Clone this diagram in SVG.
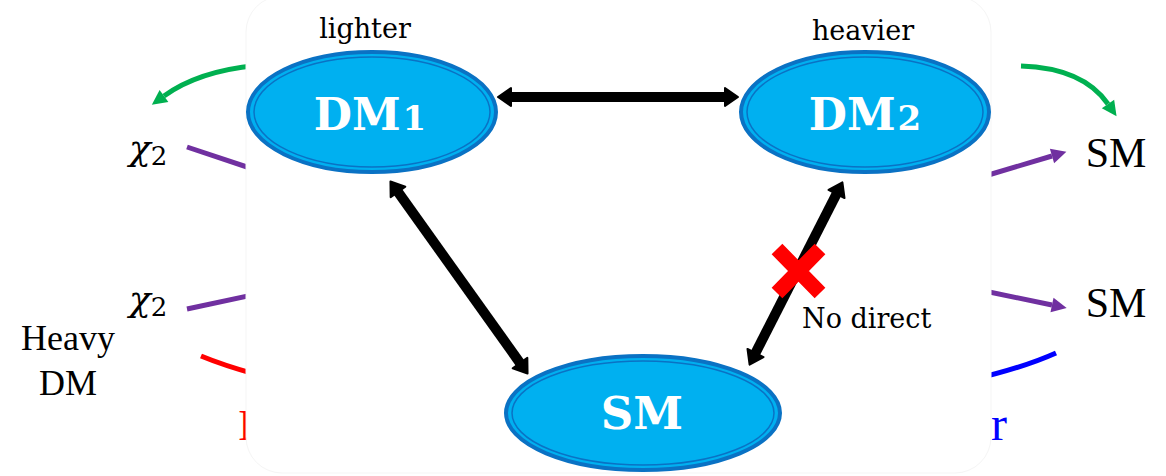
<svg xmlns="http://www.w3.org/2000/svg" width="1166" height="476" viewBox="0 0 1166 476">
<defs>
<style>
.lbl{font-family:"Liberation Serif","Times New Roman",serif;fill:#000}
.cm{font-family:"DejaVu Serif","Liberation Serif",serif;fill:#000}
.node{fill:#00B0F0;stroke:#0A72C4;stroke-width:4}
.ring{fill:none;stroke:#0A72C4;stroke-width:1.5}
.ntxt{font-family:"DejaVu Serif","Liberation Serif",serif;font-weight:bold;fill:#fff;text-anchor:middle}
.blk{stroke:#000;stroke-width:10;fill:none}
.grn{stroke:#00B050;stroke-width:5;fill:none}
.pur{stroke:#7030A0;stroke-width:5;fill:none}
.chi{font-family:"DejaVu Serif","Liberation Serif",serif;font-style:italic;fill:#000}
.sub{font-style:normal}
</style>
<marker id="hb" markerUnits="userSpaceOnUse" markerWidth="20" markerHeight="24" viewBox="-2 -12 18 24" refX="0" refY="0" orient="auto-start-reverse">
<path d="M0,-9 L13,0 L0,9 z" fill="#000" stroke="#000" stroke-width="2" stroke-linejoin="round"/>
</marker>
<marker id="hg" markerUnits="userSpaceOnUse" markerWidth="18" markerHeight="18" viewBox="0 -9 16 18" refX="0" refY="0" orient="auto">
<path d="M0,-7.5 L15,0 L0,7.5 z" fill="#00B050"/>
</marker>
<marker id="hp" markerUnits="userSpaceOnUse" markerWidth="18" markerHeight="18" viewBox="0 -9 16 18" refX="0" refY="0" orient="auto">
<path d="M0,-7.5 L15,0 L0,7.5 z" fill="#7030A0"/>
</marker>
</defs>
<rect width="1166" height="476" fill="#fff"/>

<g id="side-connectors">
<path class="grn" d="M262,65 Q200,70 164,96" marker-end="url(#hg)"/>
<line class="pur" x1="187" y1="147" x2="262" y2="172"/>
<line class="pur" x1="187" y1="309" x2="262" y2="293"/>
<path d="M201,356 Q225,366 262,376" stroke="#FF0000" stroke-width="5" fill="none"/>
<path class="grn" d="M1021,66 Q1083,68 1108,104" marker-end="url(#hg)"/>
<line class="pur" x1="975" y1="179" x2="1052" y2="156" marker-end="url(#hp)"/>
<line class="pur" x1="975" y1="289" x2="1052" y2="305" marker-end="url(#hp)"/>
<path d="M1056,353 Q1025,367 975,379" stroke="#0000FF" stroke-width="5" fill="none"/>
<text x="238" y="440" class="lbl" font-size="44" style="fill:#FF0000">I</text>
<text x="991" y="440" class="lbl" font-size="48" style="fill:#0000FF">r</text>
</g>

<rect id="panel" x="246" y="-4" width="745" height="477" rx="36" fill="#fff" stroke="#f5f5f5" stroke-width="1"/>

<g id="labels-left">
<text x="129" y="160" class="chi" font-size="36">χ<tspan class="sub" font-size="26" dy="5">2</tspan></text>
<text x="129" y="311" class="chi" font-size="36">χ<tspan class="sub" font-size="26" dy="5">2</tspan></text>
<text x="68" y="350" class="lbl" font-size="36" text-anchor="middle">Heavy</text>
<text x="68" y="395" class="lbl" font-size="36" text-anchor="middle">DM</text>
</g>
<g id="labels-right">
<text x="1116" y="167" class="lbl" font-size="42" text-anchor="middle">SM</text>
<text x="1116" y="317" class="lbl" font-size="42" text-anchor="middle">SM</text>
</g>

<g id="connectors">
<line class="blk" x1="511" y1="97" x2="725" y2="97" marker-start="url(#hb)" marker-end="url(#hb)"/>
<line class="blk" x1="398" y1="192" x2="520" y2="363" marker-start="url(#hb)" marker-end="url(#hb)"/>
<line class="blk" x1="836.5" y1="194" x2="755.5" y2="353" marker-start="url(#hb)" marker-end="url(#hb)"/>
<path d="M777,249 L820,293 M820,249 L777,293" stroke="#FF0000" stroke-width="15" fill="none"/>
<text x="802" y="328" class="cm" font-size="27">No direct</text>
</g>

<g id="DM1">
<ellipse class="node" cx="372" cy="112" rx="124" ry="60"/>
<ellipse class="ring" cx="372" cy="112" rx="118" ry="55"/>
<text x="370" y="130" class="ntxt" font-size="44">DM<tspan font-size="34" dx="2">1</tspan></text>
<text x="365" y="38" class="cm" font-size="27" text-anchor="middle">lighter</text>
</g>

<g id="DM2">
<ellipse class="node" cx="865" cy="112" rx="124" ry="60"/>
<ellipse class="ring" cx="865" cy="112" rx="118" ry="55"/>
<text x="865" y="130" class="ntxt" font-size="44">DM<tspan font-size="34" dx="2">2</tspan></text>
<text x="863" y="40" class="cm" font-size="27" text-anchor="middle">heavier</text>
</g>

<g id="SM">
<ellipse class="node" cx="643" cy="413" rx="137" ry="57"/>
<ellipse class="ring" cx="643" cy="413" rx="131" ry="52"/>
<text x="642" y="429" class="ntxt" font-size="45">SM</text>
</g>
</svg>
